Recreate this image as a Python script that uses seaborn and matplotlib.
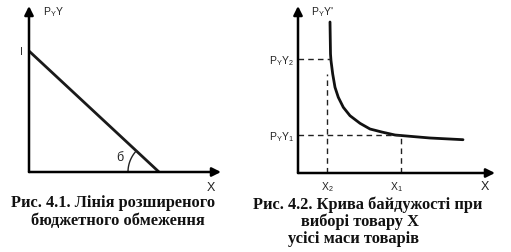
import numpy as np
import pandas as pd
import matplotlib
matplotlib.use("Agg")
import matplotlib.pyplot as plt
import seaborn as sns

# ---- data (pixel-like units relative to each panel's origin) ----
budget_x = [0, 130]
budget_y = [121, 0]

curve_x = [32, 32.5, 33, 34.7, 37, 40.3, 45.3, 52, 62, 72, 83.7, 97, 112, 132, 165]
curve_y = [151, 119, 112.3, 99, 85.7, 75.7, 65.7, 57.3, 49.7, 44, 41, 38, 36.7, 35, 33.3]

x2_val, x1_val = 29, 103
y2_val, y1_val = 114, 38
x2_curve_y, x1_curve_y = 99, 38

left_caption = ["Рис. 4.1. Лінія розширеного", "бюджетного обмеження"]
right_caption = ["Рис. 4.2. Крива байдужості при", "виборі товару X", "усісі маси товарів"]

sns.set_style("white")
plt.rcParams['font.family'] = ['DejaVu Sans']

W, H = 511, 253
fig = plt.figure(figsize=(W / 100, H / 100), dpi=100)
fig.patch.set_facecolor("white")


def make_axes(ox, oy, w, h):
    ax = fig.add_axes([ox / W, (H - oy) / H, w / W, h / H])
    ax.set_xlim(0, w)
    ax.set_ylim(0, h)
    ax.axis("off")
    return ax


arrow_kw = dict(arrowstyle="-|>", lw=1.8, color="black", mutation_scale=13,
                shrinkA=0, shrinkB=0)
lab_font = dict(family="Liberation Sans", fontsize=7.5, color="#222222")

# ---------- left panel ----------
axL = make_axes(29, 173, 200, 170)
axL.annotate("", xy=(0, 166), xytext=(0, 0), arrowprops=arrow_kw, annotation_clip=False)
axL.annotate("", xy=(192, 0), xytext=(0, 0), arrowprops=arrow_kw, annotation_clip=False)
sns.lineplot(x=budget_x, y=budget_y, ax=axL, color="#1a1a1a", lw=2.0, legend=False)
# angle arc
r = 31
ang = np.degrees(np.arctan2(budget_y[0], budget_x[1]))
t = np.radians(np.linspace(180 - ang, 180, 40))
axL.plot(budget_x[1] + r * np.cos(t), r * np.sin(t), color="#222222", lw=1.0)
axL.text(-8, 121, "I", ha="center", va="center", **lab_font)
axL.text(91, 15, "б", ha="center", va="center", family="Liberation Sans", fontsize=9, color="#222222")
axL.text(24, 161, "P$_\\mathregular{Y}$Y", ha="center", va="center", **lab_font)
axL.text(182, -15, "X", ha="center", va="center", family="Liberation Sans", fontsize=9, color="#222222")

# ---------- right panel ----------
axR = make_axes(298, 174, 200, 170)
axR.annotate("", xy=(0, 167), xytext=(0, 0), arrowprops=arrow_kw, annotation_clip=False)
axR.annotate("", xy=(197, 0), xytext=(0, 0), arrowprops=arrow_kw, annotation_clip=False)
sns.lineplot(x=curve_x, y=curve_y, ax=axR, color="#111111", lw=2.0, sort=False, legend=False)
dash = dict(color="#222222", lw=1.0, ls=(0, (4, 3)))
axR.plot([0, 32], [y2_val, y2_val], **dash)
axR.plot([x2_val, x2_val], [0, x2_curve_y], **dash)
axR.plot([0, x1_val], [y1_val, y1_val], **dash)
axR.plot([x1_val, x1_val], [0, x1_curve_y], **dash)
axR.text(-4, y2_val - 1, "P$_\\mathregular{Y}$Y$_\\mathregular{2}$", ha="right", va="center", **lab_font)
axR.text(-4, y1_val - 1, "P$_\\mathregular{Y}$Y$_\\mathregular{1}$", ha="right", va="center", **lab_font)
axR.text(x2_val, -13, "X$_\\mathregular{2}$", ha="center", va="center", **lab_font)
axR.text(x1_val - 5, -13, "X$_\\mathregular{1}$", ha="center", va="center", **lab_font)
axR.text(24, 162, "P$_\\mathregular{Y}$Y'", ha="center", va="center", **lab_font)
axR.text(187, -13, "X", ha="center", va="center", family="Liberation Sans", fontsize=9, color="#222222")

# ---------- captions ----------
cap_font = dict(family="Liberation Serif", fontweight="bold", fontsize=11.8, color="#111111")
fig.text(113 / W, 1 - 203 / H, left_caption[0], ha="center", va="center", **cap_font)
fig.text(118 / W, 1 - 221 / H, left_caption[1], ha="center", va="center", **cap_font)
fig.text(368 / W, 1 - 205 / H, right_caption[0], ha="center", va="center", **cap_font)
fig.text(360 / W, 1 - 222 / H, right_caption[1], ha="center", va="center", **cap_font)
fig.text(354 / W, 1 - 239 / H, right_caption[2], ha="center", va="center", **cap_font)

fig.savefig("out.png", dpi=100, facecolor="white")
